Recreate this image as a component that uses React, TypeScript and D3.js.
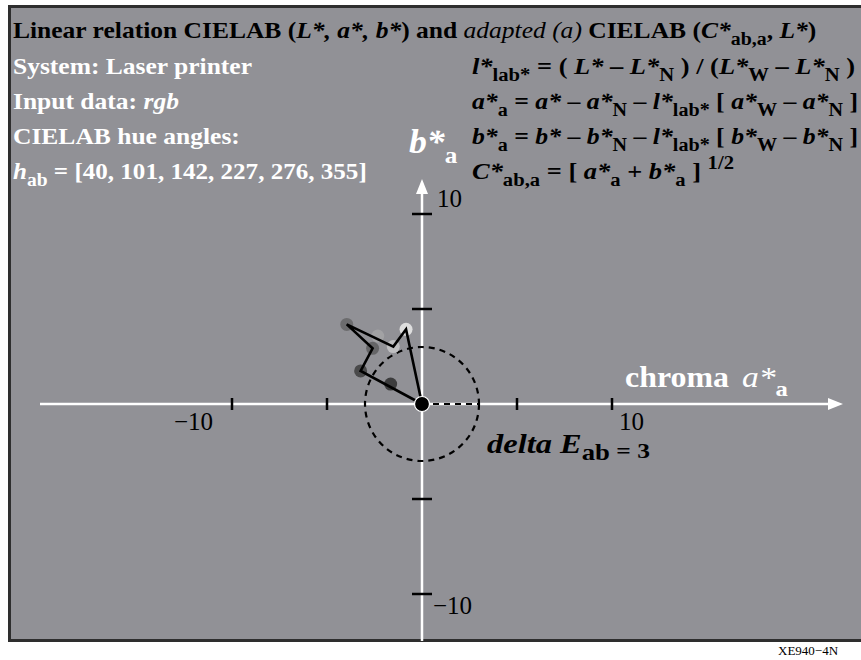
import React from "react";
import * as d3 from "d3";

// Hue angles of the printed samples (degrees)
const hueAngles = [40, 101, 142, 227, 276, 355];

// Adapted chroma coordinates (a*_a, b*_a) of the measured colour samples
const sampleA = [-3.96, -2.33, -2.6, -1.51, -0.84, -3.23, -1.65];
const sampleB = [4.19, 3.58, 2.93, 3.02, 3.93, 1.74, 1.05];
const sampleFill = ["#6c6c6e", "#a2a2a4", "#656567", "#bebec0", "#dedede", "#4a4a4b", "#3c3c3d"];

// Closed polygon of the hue series, starting and ending at the neutral point
const polyA = [0, -3.23, -2.6, -3.96, -1.51, -0.84, 0];
const polyB = [0, 1.74, 2.93, 4.19, 3.02, 3.93, 0];

const deltaE = 3;
const tickValues = [-10, -5, 5, 10];
const domain = [-10, 10];

type Seg = { t: string; i?: boolean; sub?: boolean; sup?: boolean; w?: string; s?: number };

function Rich({ x, y, segs, size, fill, weight = "bold", sx = 1 }: {
  x: number; y: number; segs: Seg[]; size: number; fill: string; weight?: string; sx?: number;
}) {
  let cur = 0;
  return (
    <g transform={`translate(${x},${y}) scale(${sx},1)`}>
      <text x={0} y={0} fontSize={size} fill={fill} fontWeight={weight}
        fontFamily="'Liberation Serif', 'Times New Roman', serif">
        {segs.map((s, k) => {
          const want = s.sub ? size * 0.3 : s.sup ? -size * 0.42 : 0;
          const dy = want - cur;
          cur = want;
          const fs = s.s ?? (s.sub || s.sup ? size * 0.78 : size);
          return (
            <tspan key={k} dy={dy} fontStyle={s.i ? "italic" : "normal"} fontSize={fs}
              fontWeight={s.w ?? weight}>
              {s.t}
            </tspan>
          );
        })}
      </text>
    </g>
  );
}

export default function App() {
  const W = 861;
  const H = 660;
  const x = d3.scaleLinear().domain(domain).range([232, 612]);
  const y = d3.scaleLinear().domain(domain).range([594, 214]);
  const x0 = x(0);
  const y0 = y(0);
  const r = x(deltaE) - x0;

  const line = d3.line<number>()
    .x((_, k) => x(polyA[k]))
    .y((_, k) => y(polyB[k]))
    .curve(d3.curveLinear);

  const axisLeft = 40;
  const axisRight = 843;
  const axisTop = 179;
  const axisBottom = 641;

  const hText = `[${hueAngles.join(", ")}]`;
  const fsz = 23;
  const fsx = 1.11;

  return (
    <svg width={W} height={H} style={{ position: "absolute", left: 0, top: 0 }}
      fontFamily="'Liberation Serif', 'Times New Roman', serif">
      <rect x={0} y={0} width={W} height={H} fill="#ffffff" />
      <rect x={9.5} y={6.5} width={900} height={634} fill="#919196" stroke="#2e2e2e" strokeWidth={3} />

      {/* header, left block */}
      <Rich x={13} y={38} size={fsz} sx={fsx} fill="#000" segs={[
        { t: "Linear relation CIELAB (" },
        { t: "L*, a*, b*", i: true },
        { t: ") and " },
        { t: "adapted (a)", i: true, w: "normal" },
        { t: " CIELAB (" },
        { t: "C*", i: true },
        { t: "ab,a", sub: true },
        { t: ", " },
        { t: "L*", i: true },
        { t: ")" },
      ]} />
      <Rich x={13} y={74} size={fsz} sx={fsx} fill="#fff" segs={[{ t: "System: Laser printer" }]} />
      <Rich x={13} y={109} size={fsz} sx={fsx} fill="#fff" segs={[{ t: "Input data: " }, { t: "rgb", i: true }]} />
      <Rich x={13} y={144} size={fsz} sx={fsx} fill="#fff" segs={[{ t: "CIELAB hue angles:" }]} />
      <Rich x={13} y={179} size={fsz} sx={1.09} fill="#fff" segs={[
        { t: "h", i: true }, { t: "ab", sub: true }, { t: ` = ${hText}` },
      ]} />

      {/* formulas, right block */}
      <Rich x={472} y={74} size={fsz} sx={1.15} fill="#000" segs={[
        { t: "l*", i: true }, { t: "lab*", sub: true }, { t: " = ( " }, { t: "L*", i: true },
        { t: " – " }, { t: "L*", i: true }, { t: "N", sub: true }, { t: " ) / (" },
        { t: "L*", i: true }, { t: "W", sub: true }, { t: " – " }, { t: "L*", i: true },
        { t: "N", sub: true }, { t: " )" },
      ]} />
      <Rich x={472} y={109} size={fsz} sx={1.12} fill="#000" segs={[
        { t: "a*", i: true }, { t: "a", sub: true }, { t: " = " }, { t: "a*", i: true },
        { t: " – " }, { t: "a*", i: true }, { t: "N", sub: true }, { t: " – " },
        { t: "l*", i: true }, { t: "lab*", sub: true }, { t: " [ " }, { t: "a*", i: true },
        { t: "W", sub: true }, { t: " – " }, { t: "a*", i: true }, { t: "N", sub: true }, { t: " ]" },
      ]} />
      <Rich x={472} y={144} size={fsz} sx={1.12} fill="#000" segs={[
        { t: "b*", i: true }, { t: "a", sub: true }, { t: " = " }, { t: "b*", i: true },
        { t: " – " }, { t: "b*", i: true }, { t: "N", sub: true }, { t: " – " },
        { t: "l*", i: true }, { t: "lab*", sub: true }, { t: " [ " }, { t: "b*", i: true },
        { t: "W", sub: true }, { t: " – " }, { t: "b*", i: true }, { t: "N", sub: true }, { t: " ]" },
      ]} />
      <Rich x={472} y={179} size={fsz} sx={1.15} fill="#000" segs={[
        { t: "C*", i: true }, { t: "ab,a", sub: true }, { t: " = [ " }, { t: "a*", i: true },
        { t: "a", sub: true }, { t: " + " }, { t: "b*", i: true }, { t: "a", sub: true },
        { t: " ] " }, { t: "1/2", sup: true },
      ]} />

      {/* axis titles */}
      <Rich x={409} y={153} size={34} sx={1.05} fill="#fff" segs={[{ t: "b*", i: true }, { t: "a", sub: true, s: 24 }]} />
      <Rich x={625} y={387} size={29} sx={1.1} fill="#fff" segs={[{ t: "chroma" }]} />
      <Rich x={742} y={387} size={30} sx={1.12} fill="#fff" segs={[{ t: "a*", i: true, w: "normal" }, { t: "a", sub: true, s: 22 }]} />

      {/* axes */}
      <line x1={axisLeft} x2={axisRight - 12} y1={y0} y2={y0} stroke="#fff" strokeWidth={2.5} />
      <path d={`M${axisRight},${y0} l-15,-6 l0,12 z`} fill="#fff" />
      <line x1={x0} x2={x0} y1={axisBottom} y2={axisTop + 12} stroke="#fff" strokeWidth={2.5} />
      <path d={`M${x0},${axisTop} l-6,15 l12,0 z`} fill="#fff" />

      {tickValues.map((v) => (
        <g key={`t${v}`}>
          <line x1={x(v)} x2={x(v)} y1={y0 - 6} y2={y0 + 6} stroke="#000" strokeWidth={2.5} />
          <line x1={x0 - 10} x2={x0 + 10} y1={y(v)} y2={y(v)} stroke="#000" strokeWidth={2.5} />
        </g>
      ))}
      <text x={213} y={430} fontSize={25} textAnchor="end" fill="#000">{"\u2212" + Math.abs(domain[0])}</text>
      <text x={x(domain[1]) + 7} y={430} fontSize={25} fill="#000">{domain[1]}</text>
      <text x={x0 + 15} y={207} fontSize={25} fill="#000">{domain[1]}</text>
      <text x={x0 + 11} y={614} fontSize={25} fill="#000">{"\u2212" + Math.abs(domain[0])}</text>

      {/* delta E circle and radius */}
      <circle cx={x0} cy={y0} r={r} fill="none" stroke="#000" strokeWidth={2.2} strokeDasharray="6 5" />
      <line x1={x0} x2={x0 + r} y1={y0} y2={y0} stroke="#000" strokeWidth={2.2} strokeDasharray="6 5" />
      <g transform="translate(487,453) scale(1.16,1)">
        <text x={0} y={0} fill="#000" fontWeight="bold">
          <tspan fontSize={28} fontStyle="italic">delta E</tspan>
          <tspan fontSize={23} dy={7}>ab</tspan>
          <tspan fontSize={22} dy={-2}> = 3</tspan>
        </text>
      </g>

      {/* samples */}
      {sampleA.map((a, k) => (
        <circle key={`s${k}`} cx={x(a)} cy={y(sampleB[k])} r={6.5} fill={sampleFill[k]} />
      ))}
      <path d={line(polyA) ?? ""} fill="none" stroke="#000" strokeWidth={2.6} strokeLinejoin="miter" />
      <circle cx={x0} cy={y0} r={7.5} fill="#000" stroke="#fff" strokeWidth={1.2} />

      <text x={778} y={655} fontSize={13} fill="#000">XE940−4N</text>
    </svg>
  );
}
